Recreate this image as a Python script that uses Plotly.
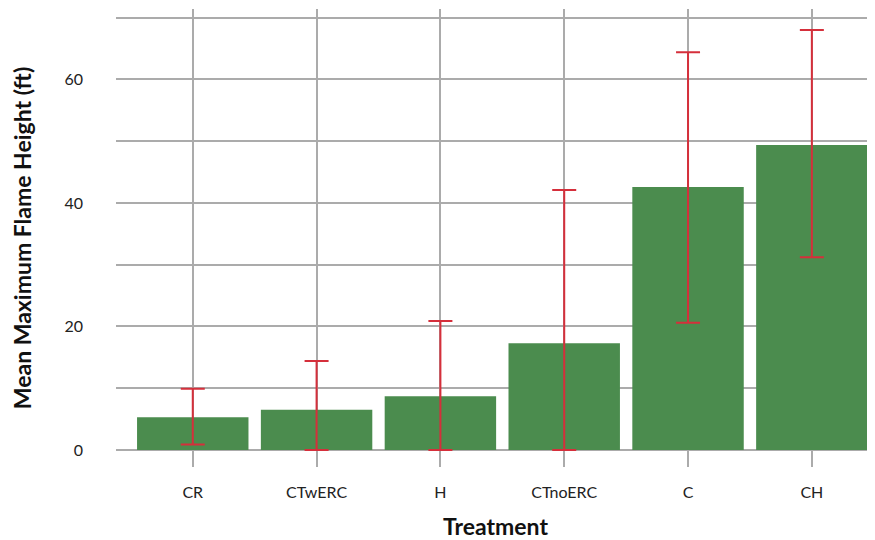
import plotly.graph_objects as go

treatments = ["CR", "CTwERC", "H", "CTnoERC", "C", "CH"]
mean_height = [5.3, 6.5, 8.7, 17.3, 42.6, 49.4]
upper = [9.9, 14.4, 20.9, 42.1, 64.4, 68.0]
lower = [0.9, 0.0, 0.0, 0.0, 20.6, 31.2]

err_plus = [u - m for u, m in zip(upper, mean_height)]
err_minus = [m - l for m, l in zip(mean_height, lower)]

GRID = "#ababab"
FONT = "Lato"

fig = go.Figure()
fig.add_trace(go.Bar(
    x=treatments, y=mean_height,
    marker=dict(color="#4b8c4e", line=dict(width=0)),
    width=0.9,
    error_y=dict(type="data", symmetric=False, array=err_plus, arrayminus=err_minus,
                 color="#d52f3b", thickness=2, width=12),
    showlegend=False,
))

fig.update_layout(
    width=867, height=532,
    margin=dict(l=108, r=0, t=1, b=73),
    plot_bgcolor="white", paper_bgcolor="white",
    font=dict(family=FONT, color="#222222"),
    bargap=0.1,
)
fig.update_xaxes(
    range=[-0.62, 5.51], showgrid=True, gridcolor=GRID, gridwidth=1.5,
    showline=False, zeroline=False, ticks="", automargin=False,
    tickfont=dict(size=16, family=FONT, color="#222222"),
    ticklabelstandoff=14,
    title=dict(text="<b>Treatment</b>", font=dict(size=23, family=FONT, color="#111111"), standoff=21),
)
fig.update_yaxes(
    range=[-2.75, 71.4], tickvals=[0, 20, 40, 60],
    showgrid=True, gridcolor=GRID, gridwidth=1.5,
    minor=dict(tick0=0, dtick=10, showgrid=True, gridcolor=GRID, gridwidth=1.5),
    showline=False, zeroline=False, ticks="", automargin=False,
    tickfont=dict(size=16, family=FONT, color="#222222"),
    ticklabelstandoff=32,
    title=dict(text="<b>Mean Maximum Flame Height (ft)</b>", font=dict(size=23, family=FONT, color="#111111"), standoff=30),
)

fig.write_html("out.html")
